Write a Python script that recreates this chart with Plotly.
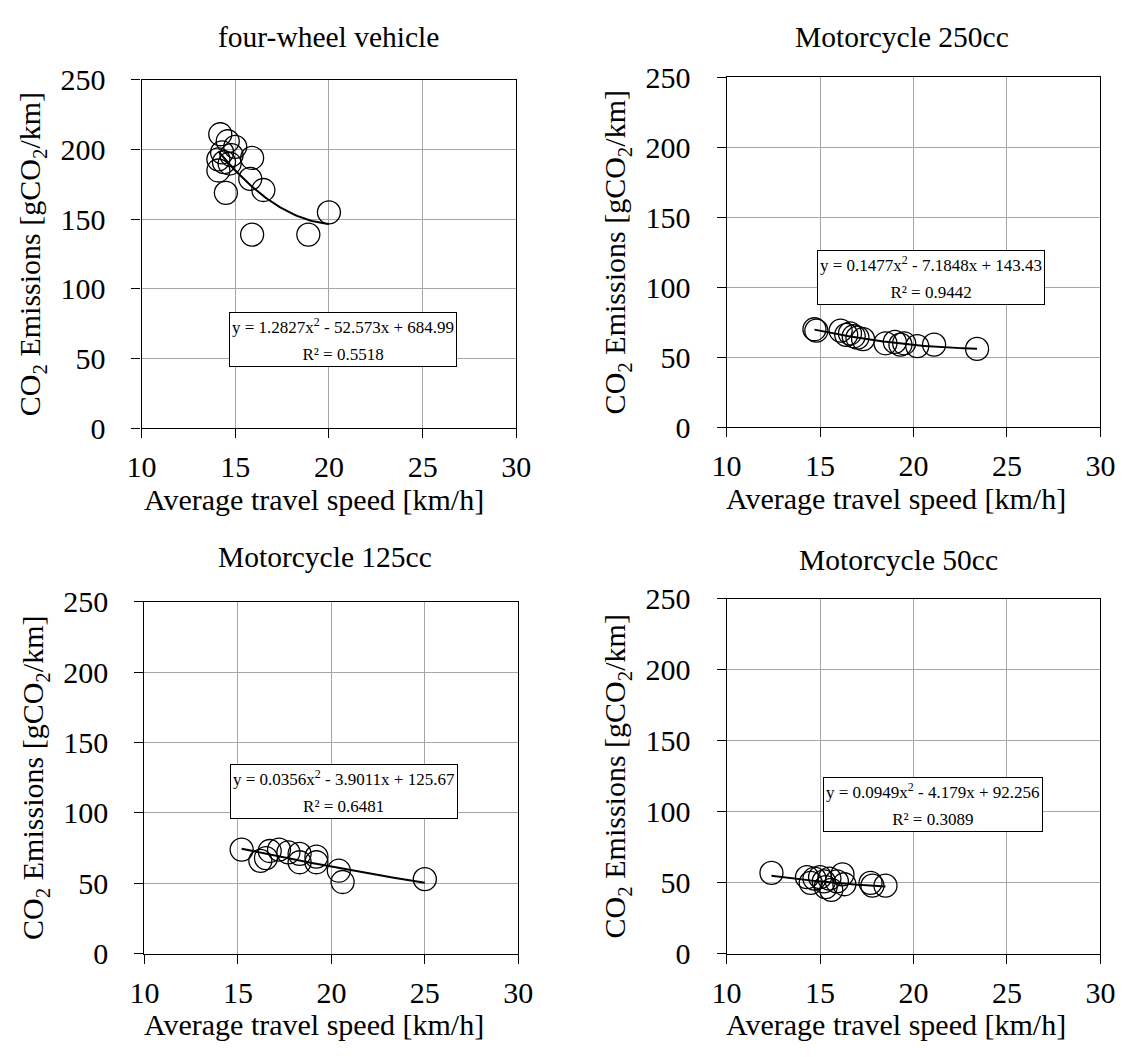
import plotly.graph_objects as go
import numpy as np

W, H = 1131, 1057
FONT = "Liberation Serif, Times New Roman, serif"

# ---------------- data ----------------
titles = ["four-wheel vehicle", "Motorcycle 250cc", "Motorcycle 125cc", "Motorcycle 50cc"]

speed_4w = [14.2, 14.6, 15.0, 14.3, 14.8, 14.1, 14.4, 14.7, 14.1, 15.9, 15.8, 16.5, 14.5, 20.0, 15.9, 18.9]
co2_4w = [211, 206, 202, 198, 196, 193, 191, 190, 185, 194, 179, 171, 169, 155, 139, 139]

speed_250 = [14.7, 14.8, 16.1, 16.4, 16.6, 16.8, 17.0, 17.3, 18.5, 19.0, 19.3, 19.5, 20.2, 21.1, 23.4]
co2_250 = [70, 69, 69, 66, 67, 65, 64, 63, 60, 61, 59, 60, 58, 59, 56]

speed_125 = [15.2, 16.2, 16.5, 16.7, 17.2, 17.7, 18.3, 18.3, 19.2, 19.2, 20.4, 20.6, 25.0]
co2_125 = [74, 66, 68, 73, 74, 72, 71, 65, 69, 65, 59, 51, 53]

speed_50 = [12.4, 14.3, 14.5, 14.7, 15.0, 15.2, 15.3, 15.5, 15.6, 15.9, 16.2, 16.3, 17.7, 17.8, 18.5]
co2_50 = [57, 54, 50, 53, 54, 51, 47, 53, 45, 51, 56, 49, 50, 48, 48]

coef_4w = [1.2827, -52.573, 684.99]
coef_250 = [0.1477, -7.1848, 143.43]
coef_125 = [0.0356, -3.9011, 125.67]
coef_50 = [0.0949, -4.179, 92.256]

eq_4w = ["y = 1.2827x<sup>2</sup> - 52.573x + 684.99", "R² = 0.5518"]
eq_250 = ["y = 0.1477x<sup>2</sup> - 7.1848x + 143.43", "R² = 0.9442"]
eq_125 = ["y = 0.0356x<sup>2</sup> - 3.9011x + 125.67", "R² = 0.6481"]
eq_50 = ["y = 0.0949x<sup>2</sup> - 4.179x + 92.256", "R² = 0.3089"]

x_title = "Average travel speed [km/h]"
y_title = "CO<sub>2</sub> Emissions [gCO<sub>2</sub>/km]"
x_ticks = [10, 15, 20, 25, 30]
y_ticks = [0, 50, 100, 150, 200, 250]

# ---------------- layout (pixel positions) ----------------
# plot boxes: (left, right, top, bottom)
boxes = [(130, 515, 65, 425), (731, 1115, 62, 424),
         (133, 517, 604, 968), (731, 1115, 601, 968)]
eq_pos = [(14.65, 44), (14.85, 87), (14.57, 95.5), (15.16, 85.6)]   # left/bottom in data units
title_pos = [(322, 21), (911, 21), (318, 558), (908, 561)]
xtitle_pos = [(307, 499), (905, 498), (307, 1041), (905, 1041)]

panels = [(speed_4w, co2_4w, coef_4w, eq_4w),
          (speed_250, co2_250, coef_250, eq_250),
          (speed_125, co2_125, coef_125, eq_125),
          (speed_50, co2_50, coef_50, eq_50)]

fig = go.Figure()
annotations = []
layout = {}

for i, (sx, sy, coef, eq) in enumerate(panels):
    n = i + 1
    xa = "x" if n == 1 else f"x{n}"
    ya = "y" if n == 1 else f"y{n}"
    l, r, t, b = boxes[i]
    fig.add_trace(go.Scatter(x=sx, y=sy, mode="markers", xaxis=xa, yaxis=ya,
                             marker=dict(symbol="circle-open", size=23, color="black",
                                         line=dict(width=1.3, color="black")),
                             showlegend=False))
    xf = np.linspace(min(sx), max(sx), 60)
    yf = np.polyval(coef, xf)
    fig.add_trace(go.Scatter(x=xf, y=yf, mode="lines", xaxis=xa, yaxis=ya,
                             line=dict(color="black", width=2), showlegend=False))
    common = dict(showline=True, linecolor="black", linewidth=1.2, mirror=True,
                  showgrid=True, gridcolor="#a6a6a6", gridwidth=1,
                  ticks="outside", ticklen=9, tickcolor="black", tickwidth=1,
                  zeroline=False, tickfont=dict(family=FONT, size=30, color="black"))
    layout["xaxis" if n == 1 else f"xaxis{n}"] = dict(
        common, domain=[l / W, r / W], anchor=ya, range=[10, 30],
        tickvals=x_ticks, ticktext=[str(v) for v in x_ticks], ticklabelstandoff=3)
    layout["yaxis" if n == 1 else f"yaxis{n}"] = dict(
        common, domain=[1 - b / H, 1 - t / H], anchor=xa, range=[0, 250],
        tickvals=y_ticks, ticktext=[str(v) for v in y_ticks], ticklabelstandoff=20,
        title=dict(text=y_title, standoff=10,
                   font=dict(family=FONT, size=30, color="black")))
    ex, ey = eq_pos[i]
    txt = ("<span style='font-size:17px'>" + eq[0] + "</span><br>"
           "<span style='font-size:17px'>" + eq[1] + "</span>")
    annotations.append(dict(text=txt, xref=xa, yref=ya, x=ex, y=ey,
                            xanchor="left", yanchor="bottom", align="center",
                            showarrow=False, bgcolor="white", bordercolor="black",
                            borderwidth=1, borderpad=2,
                            font=dict(family=FONT, size=21, color="black")))
    tx, ty = title_pos[i]
    annotations.append(dict(text=titles[i], xref="paper", yref="paper",
                            x=tx / W, y=1 - ty / H, xanchor="center", yanchor="middle",
                            showarrow=False, font=dict(family=FONT, size=29.5, color="black")))
    qx, qy = xtitle_pos[i]
    annotations.append(dict(text=x_title, xref="paper", yref="paper",
                            x=qx / W, y=1 - qy / H, xanchor="center", yanchor="middle",
                            showarrow=False, font=dict(family=FONT, size=30, color="black")))

fig.update_layout(width=W, height=H, margin=dict(l=0, r=0, t=0, b=0),
                  paper_bgcolor="white", plot_bgcolor="white",
                  annotations=annotations, **layout)

fig.write_html("out.html")
